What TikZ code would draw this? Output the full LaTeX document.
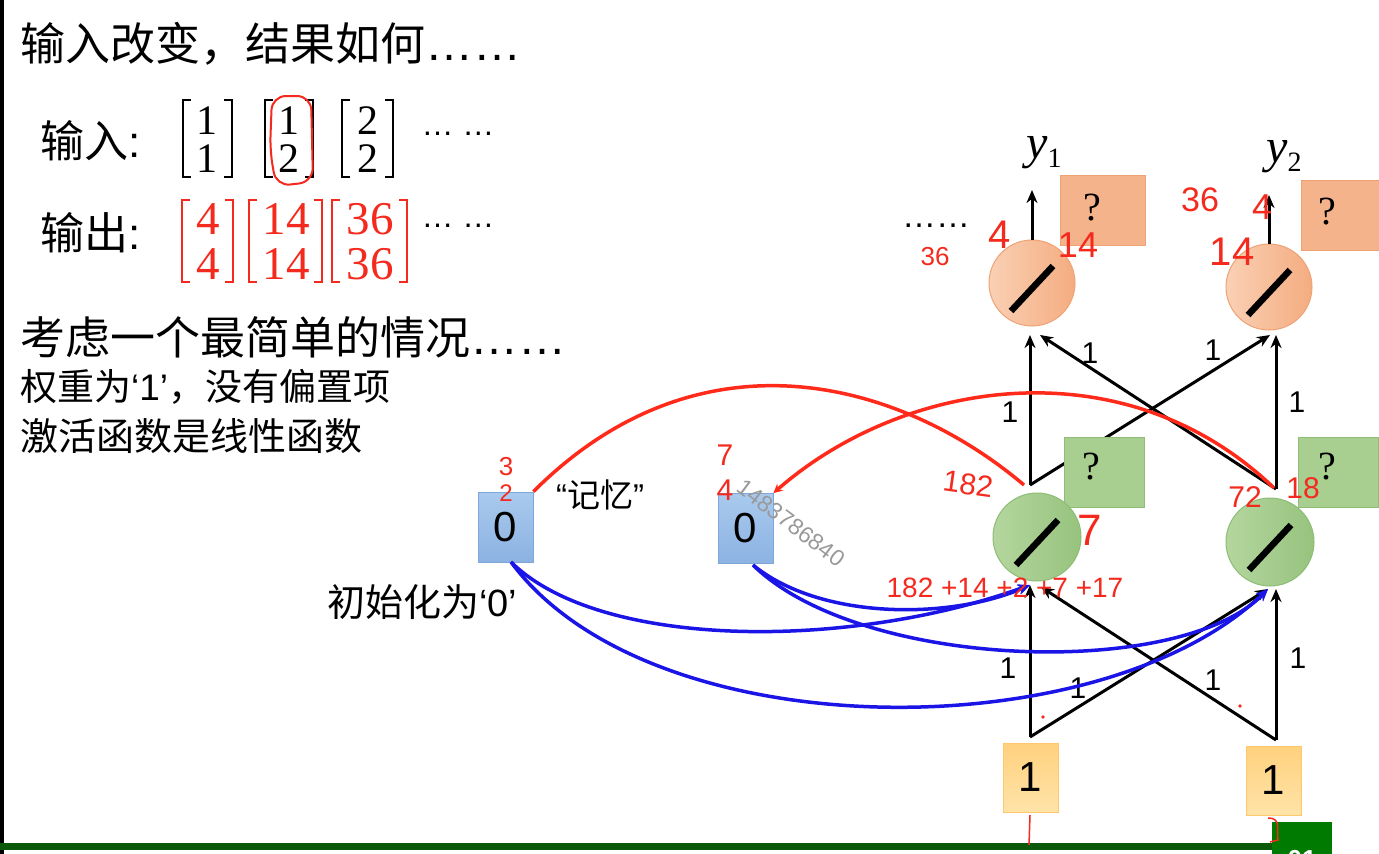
\documentclass[tikz,border=0pt]{standalone}
\usepackage{fontspec}
\setmainfont{Liberation Serif}
\newfontfamily\cjk{Noto Sans CJK SC}
\newfontfamily\arial{Liberation Sans}
\usetikzlibrary{arrows.meta}
\newcommand\fs[1]{\fontsize{#1}{#1}\selectfont}
\definecolor{orL}{HTML}{FAD0B4}
\definecolor{orR}{HTML}{F4AC80}
\definecolor{orB}{HTML}{EFA274}
\definecolor{orBox}{HTML}{F5B38C}
\definecolor{grL}{HTML}{B4D69E}
\definecolor{grR}{HTML}{97C37E}
\definecolor{grB}{HTML}{8DBD76}
\definecolor{grBox}{HTML}{A8CE90}
\definecolor{blT}{HTML}{A9CAEE}
\definecolor{blB}{HTML}{8CB2E2}
\definecolor{blBd}{HTML}{7FA6D8}
\definecolor{ylT}{HTML}{FFD17E}
\definecolor{ylB}{HTML}{FFE3A8}
\definecolor{ylBd}{HTML}{FFC86A}
\definecolor{hand}{HTML}{F42A1E}
\definecolor{curR}{HTML}{FF2A1A}
\definecolor{curB}{HTML}{1A14E6}
\definecolor{barG}{HTML}{0A5A0A}
\definecolor{boxG}{HTML}{007A00}
\begin{document}
\begin{tikzpicture}[x=1pt,y=-1pt,
  neuronO/.style={circle,minimum size=86pt,inner sep=0pt,draw=orB,line width=1pt,left color=orL,right color=orR},
  neuronG/.style={circle,minimum size=88pt,inner sep=0pt,draw=grB,line width=1pt,left color=grL,right color=grR},
  slash/.style={line width=6.5pt,black},
  qboxO/.style={rectangle,minimum width=85pt,minimum height=70pt,inner sep=0pt,fill=orBox,draw=orB,line width=0.8pt},
  qboxG/.style={rectangle,minimum width=80pt,minimum height=70pt,inner sep=0pt,fill=grBox,draw=grB,line width=0.8pt},
  memo/.style={rectangle,minimum width=55pt,minimum height=70pt,inner sep=0pt,top color=blT,bottom color=blB,draw=blBd,line width=0.8pt,font=\arial\fs{42}},
  inbox/.style={rectangle,minimum width=55pt,minimum height=69pt,inner sep=0pt,top color=ylT,bottom color=ylB,draw=ylBd,line width=0.8pt,font=\arial\fs{42}},
  qmark/.style={font=\fs{40},inner sep=0pt},
  wlab/.style={font=\arial\fs{30},inner sep=0pt},
  conn/.style={line width=3pt,-{Stealth[length=13pt,width=11pt]}},
  rcurve/.style={line width=3.5pt,curR,-{Stealth[length=9pt,width=9pt]}},
  bcurve/.style={line width=3.5pt,curB,-{Stealth[length=12pt,width=10pt]}},
  cjkt/.style={anchor=west,inner sep=0pt,font=\cjk},
  hw/.style={inner sep=0pt,text=hand,font=\arial},
  brk/.style={line width=2.4pt},
  dig/.style={inner sep=0pt,font=\fs{42}},
  rdig/.style={inner sep=0pt,font=\fs{47},text=hand},
  ylab/.style={inner sep=0pt,font=\fs{48}}
]
\clip (0,0) rectangle (1379,854);
\fill[white] (0,0) rectangle (1379,854);
\draw[line width=4pt] (2,0) -- (2,854);

% ---------- left texts ----------
\node[cjkt,font=\cjk\fs{45}] (title) at (20,44) {输入改变，结果如何{\arial\fs{48}……}};
\node[cjkt,font=\cjk\fs{44}] (inlab) at (40,141) {输入{\arial :}};
\node[cjkt,font=\cjk\fs{44}] (outlab) at (40,233) {输出{\arial :}};
\node[cjkt,font=\cjk\fs{45}] (cons) at (20,337) {考虑一个最简单的情况{\arial\fs{48}……}};
\node[cjkt,font=\cjk\fs{37}] (w1) at (20,387) {权重为{\arial ‘1’}，没有偏置项};
\node[cjkt,font=\cjk\fs{38}] (act) at (20,436) {激活函数是线性函数};

% input matrices
\draw[brk] (191,100) -- (183,100) -- (183,177) -- (191,177);
\draw[brk] (224,100) -- (232,100) -- (232,177) -- (224,177);
\node[dig] (m1a) at (207,121) {1};
\node[dig] (m1b) at (207,159) {1};
\draw[brk] (273,100) -- (265,100) -- (265,177) -- (273,177);
\draw[brk] (305,100) -- (313,100) -- (313,177) -- (305,177);
\node[dig] (m2a) at (289,121) {1};
\node[dig] (m2b) at (289,159) {2};
\draw[brk] (350,100) -- (342,100) -- (342,177) -- (350,177);
\draw[brk] (385,100) -- (393,100) -- (393,177) -- (385,177);
\node[dig] (m3a) at (368,121) {2};
\node[dig] (m3b) at (368,159) {2};
\node[inner sep=0pt,font=\arial\fs{32}] (idots) at (458,134) {… …};
\draw[hand,line width=2pt,rounded corners=14pt] (272,96) -- (311,96) -- (313,182) -- (276,186) -- (270,150) -- cycle;

% output matrices (red)
\draw[brk,hand] (190,200) -- (182,200) -- (182,282) -- (190,282);
\draw[brk,hand] (225,200) -- (233,200) -- (233,282) -- (225,282);
\node[rdig] (o1a) at (208,219) {4};
\node[rdig] (o1b) at (208,264) {4};
\draw[brk,hand] (257,200) -- (249,200) -- (249,282) -- (257,282);
\draw[brk,hand] (314,200) -- (322,200) -- (322,282) -- (314,282);
\node[rdig] (o2a) at (286,219) {14};
\node[rdig] (o2b) at (286,264) {14};
\draw[brk,hand] (340,200) -- (332,200) -- (332,282) -- (340,282);
\draw[brk,hand] (399,200) -- (407,200) -- (407,282) -- (399,282);
\node[rdig] (o3a) at (370,219) {36};
\node[rdig] (o3b) at (370,264) {36};
\node[inner sep=0pt,font=\arial\fs{32}] (odots) at (458,226) {… …};

% ---------- network ----------
\coordinate (in1) at (1030,737);
\coordinate (in2) at (1276,740);
\coordinate (h1) at (1030,485);
\coordinate (h2) at (1276,489);
\coordinate (g1v) at (1030,585);
\coordinate (g1d) at (1041,587);
\coordinate (g2v) at (1276,589);
\coordinate (g2d) at (1268,589);
\coordinate (o1v) at (1030,335);
\coordinate (o1d) at (1040,335);
\coordinate (o2v) at (1276,335);
\coordinate (o2d) at (1270,335);
\coordinate (y1t) at (1032,190);
\coordinate (y2t) at (1269,195);

\node[inbox] (x1) at (1030.5,777.5) {1};
\node[inbox] (x2) at (1273.5,780.5) {1};

\draw[conn] (in1) -- (g1v);
\draw[conn] (in1) -- (g2d);
\draw[conn] (in2) -- (g2v);
\draw[conn] (in2) -- (g1d);

\draw[conn] (h1) -- (o1v);
\draw[conn] (h1) -- (o2d);
\draw[conn] (h2) -- (o2v);
\draw[conn] (h2) -- (o1d);

\node[wlab] (wb1) at (1008,668) {1};
\node[wlab] (wb2) at (1078,688) {1};
\node[wlab] (wb3) at (1213,680) {1};
\node[wlab] (wb4) at (1298,658) {1};
\node[wlab] (wt1) at (1010,412) {1};
\node[wlab] (wt2) at (1090,353) {1};
\node[wlab] (wt3) at (1213,350) {1};
\node[wlab] (wt4) at (1297,402) {1};

\node[qboxG] (gq1) at (1104,472) {};
\node[qmark] (gq1t) at (1091,467) {?};
\node[qboxG] (gq2) at (1338,472) {};
\node[qmark] (gq2t) at (1327,467) {?};

\node[neuronG] (g1) at (1037,537) {};
\node[neuronG] (g2) at (1270,542) {};
\node[neuronO] (n1) at (1032,283) {};
\node[neuronO] (n2) at (1269,287) {};
\foreach \n in {g1,g2,n1,n2}
  \draw[slash] ([shift={(-21pt,-28pt)}]\n.center) -- ([shift={(21pt,17pt)}]\n.center);

\draw[conn] (n1.north) -- (y1t);
\draw[conn] (n2.north) -- (y2t);
\node[ylab] (y1) at (1044,153) {\textit{y}\raisebox{-9pt}{\fs{28}1}};
\node[ylab] (y2) at (1284,157) {\textit{y}\raisebox{-9pt}{\fs{28}2}};

\node[qboxO] (oq1) at (1102.5,210) {};
\node[qmark] (oq1t) at (1092,208) {?};
\node[qboxO] (oq2) at (1343.5,215) {};
\node[qmark] (oq2t) at (1327,212) {?};
\node[inner sep=0pt,font=\arial\fs{34}] (ydots) at (936,226) {……};

% memory boxes
\node[memo] (m1) at (505.5,527) {0};
\node[memo] (m2) at (745.5,528.5) {0};
\node[cjkt,font=\cjk\fs{33}] (memlab) at (556,495) {{\arial “}记忆{\arial ”}};
\node[cjkt,font=\cjk\fs{38}] (initlab) at (327,602) {初始化为{\arial ‘0’}};
\node[inner sep=0pt,text=black!40,font=\arial\fs{23},rotate=-37] (wm) at (791,523) {1483786840};

% red memory curves
\coordinate (rA1) at (1024,485);
\coordinate (rB0) at (1274,488);
\draw[line width=3.5pt,curR] (m1.north east) .. controls (700,325) and (900,380) .. (rA1);
\draw[rcurve] (rB0) .. controls (1125,345) and (905,378) .. (m2.north east);

% blue curves
\coordinate (b1s) at (511,562);
\coordinate (b2s) at (753,565);
\draw[bcurve] (b1s) .. controls (600,650) and (850,650) .. (g1v);
\draw[bcurve] (b1s) .. controls (650,750) and (1100,750) .. (g2d);
\draw[bcurve] (b2s) .. controls (820,620) and (950,620) .. (g1v);
\draw[bcurve] (b2s) .. controls (860,670) and (1180,680) .. (g2d);

% bottom bar
\fill[barG] (0,843) rectangle (1272,850);
\fill[boxG] (1272,822) rectangle (1332,854);
\node[inner sep=0pt,text=white,font=\arial\bfseries\fs{26}] (pg) at (1302,860) {01};

% handwritten annotations
\node[hw,font=\arial\fs{26}] (h1a) at (506,467) {3};
\node[hw,font=\arial\fs{24}] (h1b) at (506,493) {2};
\node[hw,font=\arial\fs{30}] (h2a) at (725,455) {7};
\node[hw,font=\arial\fs{30}] (h2b) at (725,490) {4};
\node[hw,font=\arial\fs{26}] (h3) at (935,257) {36};
\node[hw,font=\arial\fs{40}] (h4) at (1000,235) {4};
\node[hw,font=\arial\fs{36}] (h5) at (1078,245) {14};
\node[hw,font=\arial\fs{34}] (h6) at (1200,200) {36};
\node[hw,font=\arial\fs{40}] (h7) at (1232,252) {14};
\node[hw,font=\arial\fs{36}] (h8) at (1262,207) {4};
\node[hw,font=\arial\fs{30},rotate=-8] (h9) at (968,484) {182};
\node[hw,font=\arial\fs{30}] (h10) at (1245,497) {72};
\node[hw,font=\arial\fs{30}] (h11) at (1303,488) {18};
\node[hw,font=\arial\fs{44}] (h12) at (1090,530) {7};
\node[hw,font=\arial\fs{28}] (h13) at (1005,588) {182 +14 +2 +7 +17};
\draw[hand,line width=1.5pt] (1030,815) -- (1029,845);
\draw[hand,line width=1.5pt] (1268,818) .. controls (1282,818) and (1276,830) .. (1278,840) -- (1270,842);
\fill[hand] (1043,717) circle (1.8pt);
\fill[hand] (1240,706) circle (1.8pt);
\end{tikzpicture}
\end{document}
